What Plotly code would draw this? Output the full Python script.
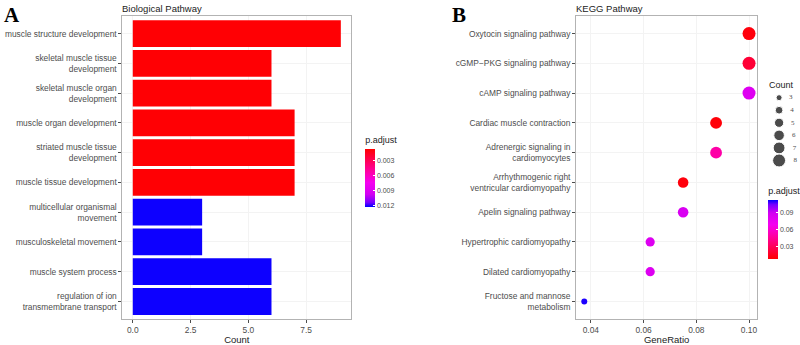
import numpy as np
import plotly.graph_objects as go

# ---------------- data ----------------
bp_terms = [
    "muscle structure development",
    "skeletal muscle tissue<br>development",
    "skeletal muscle organ<br>development",
    "muscle organ development",
    "striated muscle tissue<br>development",
    "muscle tissue development",
    "multicellular organismal<br>movement",
    "musculoskeletal movement",
    "muscle system process",
    "regulation of ion<br>transmembrane transport",
]
bp_count = [9, 6, 6, 7, 7, 7, 3, 3, 6, 6]
bp_padj = [0.0008, 0.0008, 0.0008, 0.0008, 0.0008, 0.0008, 0.0121, 0.0121, 0.0121, 0.0121]
bp_cbar_ticks = [0.003, 0.006, 0.009, 0.012]

kegg_terms = [
    "Oxytocin signaling pathway",
    "cGMP−PKG signaling pathway",
    "cAMP signaling pathway",
    "Cardiac muscle contraction",
    "Adrenergic signaling in<br>cardiomyocytes",
    "Arrhythmogenic right<br>ventricular cardiomyopathy",
    "Apelin signaling pathway",
    "Hypertrophic cardiomyopathy",
    "Dilated cardiomyopathy",
    "Fructose and mannose<br>metabolism",
]
kegg_ratio = [0.1, 0.1, 0.1, 0.0875, 0.0875, 0.075, 0.075, 0.0625, 0.0625, 0.0375]
kegg_count = [8, 8, 8, 7, 7, 6, 6, 5, 5, 3]
kegg_padj = [0.012, 0.022, 0.082, 0.011, 0.050, 0.012, 0.085, 0.083, 0.083, 0.110]
kegg_cbar_ticks = [0.03, 0.06, 0.09]
count_legend = [3, 4, 5, 6, 7, 8]

# ---------------- styling ----------------
FONT = "Liberation Sans, Arial, sans-serif"
TICKC = "#4D4D4D"
RED_BLUE = [[0.0, "#FF0000"], [0.15, "#FF0040"], [0.38, "#FF00A0"], [0.58, "#F500F0"],
            [0.78, "#D200F2"], [0.92, "#7800FF"], [1.0, "#0000FF"]]
BLUE_RED = [[round(1 - p, 4), c] for p, c in RED_BLUE][::-1]

def diam(c):
    c = np.asarray(c, dtype=float)
    lo, hi = np.sqrt(3), np.sqrt(8)
    return 6 + (np.sqrt(c) - lo) / (hi - lo) * 7

H = 345.0
def py(pix):
    return (H - pix) / H

fig = go.Figure()

# left bar chart (colors mapped via negated p.adjust so low values sit at the top of the bar)
fig.add_trace(go.Bar(
    x=bp_count, y=bp_terms, orientation="h",
    marker=dict(color=[-p for p in bp_padj], coloraxis="coloraxis", line=dict(width=0)),
    xaxis="x", yaxis="y", showlegend=False,
))

# right dot plot
fig.add_trace(go.Scatter(
    x=kegg_ratio, y=kegg_terms, mode="markers",
    marker=dict(size=diam(kegg_count), color=kegg_padj, coloraxis="coloraxis2", line=dict(width=0), opacity=1),
    xaxis="x2", yaxis="y2", showlegend=False,
))

# count size legend (own hidden axes)
fig.add_trace(go.Scatter(
    x=[0] * len(count_legend), y=count_legend, mode="markers+text",
    marker=dict(size=diam(count_legend), color="black"),
    text=["   " + str(c) for c in count_legend], textposition="middle right",
    textfont=dict(family="Liberation Serif, serif", size=7, color=TICKC),
    xaxis="x3", yaxis="y3", showlegend=False, cliponaxis=False,
))

yd = [py(325), py(16)]
axis_common = dict(
    showline=True, linecolor="#B3B3B3", linewidth=1, mirror=True,
    gridcolor="#F3F3F3", gridwidth=1, zeroline=False,
    ticks="outside", ticklen=3, tickcolor="#4D4D4D", tickwidth=0.6,
    tickfont=dict(family=FONT, size=8.4, color=TICKC),
)
cat_range = [len(bp_terms) - 1 + 0.6, -0.6]

fig.update_layout(
    width=800, height=345,
    margin=dict(l=0, r=0, t=0, b=0),
    paper_bgcolor="white", plot_bgcolor="white",
    font=dict(family=FONT, color="#222"),
    bargap=0.1,
    xaxis=dict(domain=[123 / 800, 353 / 800], range=[-0.45, 9.45], anchor="y",
               tickvals=[0, 2.5, 5, 7.5], ticktext=["0.0", "2.5", "5.0", "7.5"],
               title=dict(text="Count", font=dict(size=9.5, color="#222"), standoff=3),
               **axis_common),
    yaxis=dict(domain=yd, anchor="x", range=cat_range, categoryorder="array",
               categoryarray=bp_terms, showgrid=True, **axis_common),
    xaxis2=dict(domain=[579 / 800, 761 / 800], range=[0.0344, 0.1031], anchor="y2",
                tickvals=[0.04, 0.06, 0.08, 0.10], ticktext=["0.04", "0.06", "0.08", "0.10"],
                title=dict(text="GeneRatio", font=dict(size=9.5, color="#222"), standoff=3),
                **axis_common),
    yaxis2=dict(domain=yd, anchor="x2", range=cat_range, categoryorder="array",
                categoryarray=kegg_terms, **axis_common),
    xaxis3=dict(domain=[777 / 800, 789 / 800], range=[-1, 1], visible=False, anchor="y3"),
    yaxis3=dict(domain=[py(171), py(93)], range=[8.6, 2.5], visible=False, anchor="x3"),
    coloraxis=dict(
        colorscale=BLUE_RED, cmin=-max(bp_padj) - 0.0001, cmax=-min(bp_padj) + 0.0001,
        colorbar=dict(
            title=dict(text="p.adjust", side="top", font=dict(size=9, color="#222")),
            x=367 / 800, xanchor="left", y=py(136), yanchor="top",
            lenmode="pixels", len=59 + 14, thickness=10, outlinewidth=0,
            tickvals=[-t for t in bp_cbar_ticks], ticktext=[f"{t:.3f}" for t in bp_cbar_ticks],
            ticks="inside", ticklen=2, tickcolor="white",
            tickfont=dict(size=7, color=TICKC), xpad=0, ypad=0,
        ),
    ),
    coloraxis2=dict(
        colorscale=RED_BLUE, cmin=0.009, cmax=0.112,
        colorbar=dict(
            title=dict(text="p.adjust", side="top", font=dict(size=9, color="#222")),
            x=772 / 800, xanchor="left", y=py(188), yanchor="top",
            lenmode="pixels", len=60 + 14, thickness=10, outlinewidth=0,
            tickvals=kegg_cbar_ticks, ticktext=[f"{t:.2f}" for t in kegg_cbar_ticks],
            ticks="inside", ticklen=2, tickcolor="white",
            tickfont=dict(size=7, color=TICKC), xpad=0, ypad=0,
        ),
    ),
    annotations=[
        dict(text="<b>A</b>", x=2 / 800, y=py(1), xref="paper", yref="paper", xanchor="left", yanchor="top",
             showarrow=False, font=dict(family="Liberation Serif, serif", size=21, color="black")),
        dict(text="<b>B</b>", x=452 / 800, y=py(1), xref="paper", yref="paper", xanchor="left", yanchor="top",
             showarrow=False, font=dict(family="Liberation Serif, serif", size=21, color="black")),
        dict(text="Biological Pathway", x=121 / 800, y=py(1), xref="paper", yref="paper", xanchor="left",
             yanchor="top", showarrow=False, font=dict(size=9.5, color="#222")),
        dict(text="KEGG Pathway", x=577 / 800, y=py(1), xref="paper", yref="paper", xanchor="left",
             yanchor="top", showarrow=False, font=dict(size=9.5, color="#222")),
        dict(text="Count", x=771 / 800, y=py(79), xref="paper", yref="paper", xanchor="left",
             yanchor="top", showarrow=False, font=dict(size=9, color="#222")),
    ],
)

fig.write_html("out.html", config={"displayModeBar": False},
               post_script="document.body.style.margin='0';document.body.style.overflow='hidden';")
